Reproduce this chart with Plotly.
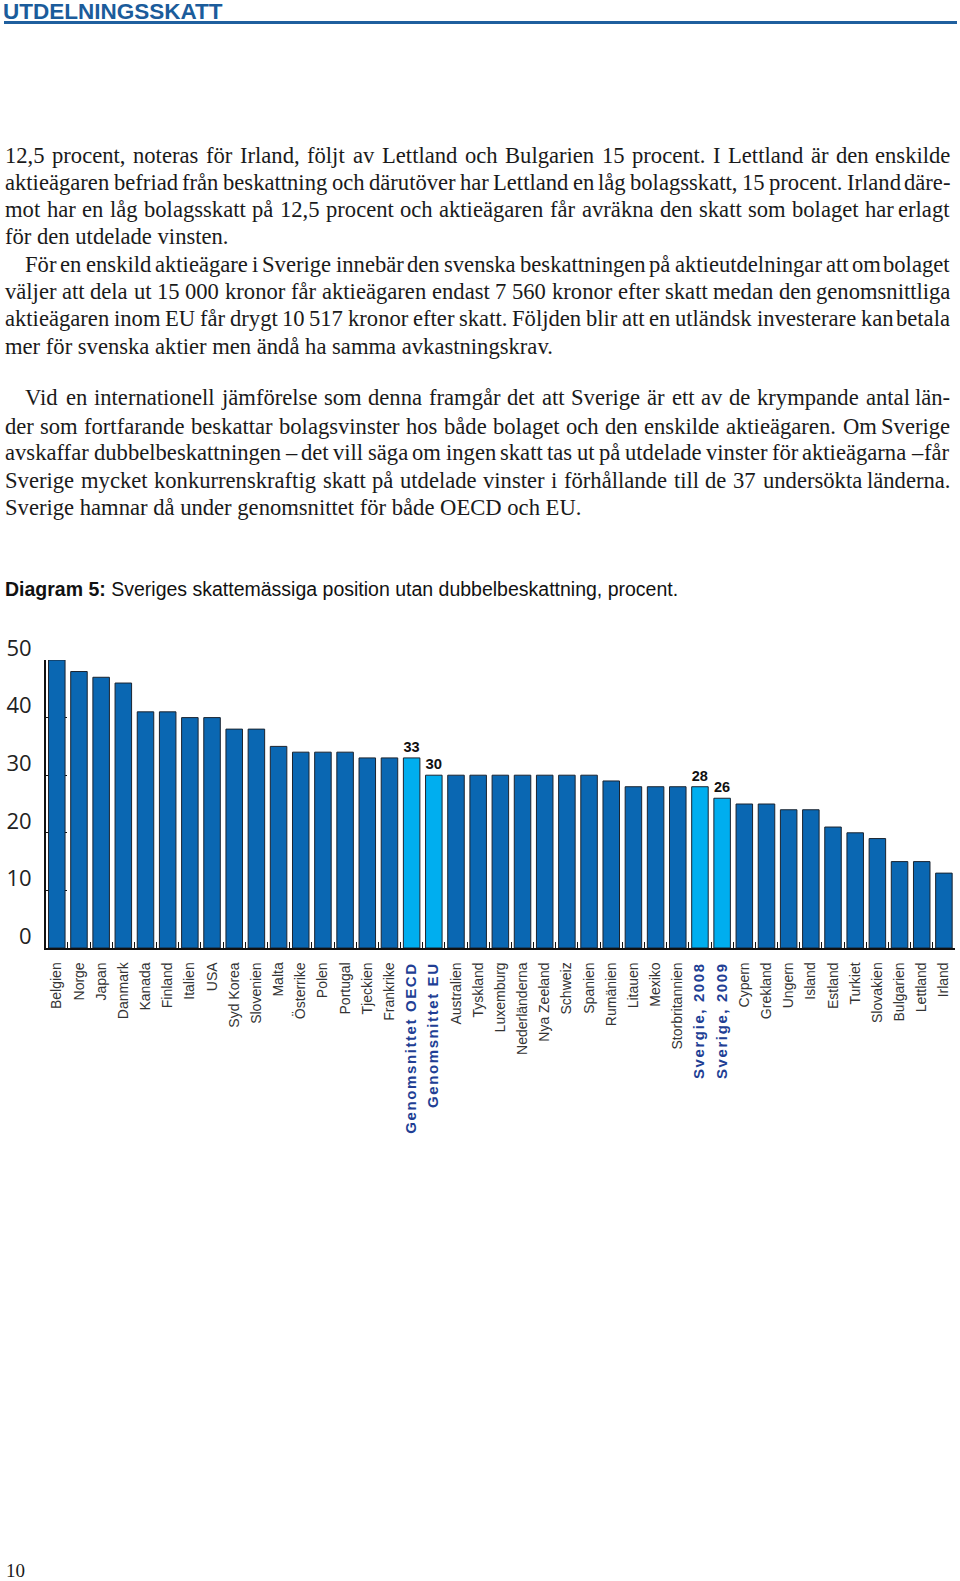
import plotly.graph_objects as go

# ---------------- data ----------------
categories = ["Belgien", "Norge", "Japan", "Danmark", "Kanada", "Finland", "Italien", "USA",
              "Syd Korea", "Slovenien", "Malta", "Österrike", "Polen", "Portugal", "Tjeckien",
              "Frankrike", "Genomsnittet OECD", "Genomsnittet EU", "Australien", "Tyskland",
              "Luxemburg", "Nederländerna", "Nya Zeeland", "Schweiz", "Spanien", "Rumänien",
              "Litauen", "Mexiko", "Storbritannien", "Svergie, 2008", "Sverige, 2009", "Cypern",
              "Grekland", "Ungern", "Island", "Estland", "Turkiet", "Slovakien", "Bulgarien",
              "Lettland", "Irland"]
values = [50, 48, 47, 46, 41, 41, 40, 40, 38, 38, 35, 34, 34, 34, 33, 33, 33, 30, 30, 30,
          30, 30, 30, 30, 30, 29, 28, 28, 28, 28, 26, 25, 25, 24, 24, 21, 20, 19, 15, 15, 13]
highlighted = ["Genomsnittet OECD", "Genomsnittet EU", "Svergie, 2008", "Sverige, 2009"]
labelled = {"Genomsnittet OECD": "33", "Genomsnittet EU": "30", "Svergie, 2008": "28", "Sverige, 2009": "26"}
y_ticks = [0, 10, 20, 30, 40, 50]

title_text = "UTDELNINGSSKATT"
caption_bold = "Diagram 5:"
caption_text = "Sveriges skattemässiga position utan dubbelbeskattning, procent."
page_number = "10"

# (text, visual-center y in px, indent, justified)
body_lines = [
    ("12,5 procent, noteras för Irland, följt av Lettland och Bulgarien 15 procent. I Lettland är den enskilde", 156, False, True),
    ("aktieägaren befriad från beskattning och därutöver har Lettland en låg bolagsskatt, 15 procent. Irland däre-", 183, False, True),
    ("mot har en låg bolagsskatt på 12,5 procent och aktieägaren får avräkna den skatt som bolaget har erlagt", 210, False, True),
    ("för den utdelade vinsten.", 236, False, False),
    ("För en enskild aktieägare i Sverige innebär den svenska beskattningen på aktieutdelningar att om bolaget", 264, True, True),
    ("väljer att dela ut 15 000 kronor får aktieägaren endast 7 560 kronor efter skatt medan den genomsnittliga", 291, False, True),
    ("aktieägaren inom EU får drygt 10 517 kronor efter skatt. Följden blir att en utländsk investerare kan betala", 318.5, False, True),
    ("mer för svenska aktier men ändå ha samma avkastningskrav.", 346, False, False),
    ("Vid en internationell jämförelse som denna framgår det att Sverige är ett av de krympande antal län-", 398, True, True),
    ("der som fortfarande beskattar bolagsvinster hos både bolaget och den enskilde aktieägaren. Om Sverige", 426, False, True),
    ("avskaffar dubbelbeskattningen – det vill säga om ingen skatt tas ut på utdelade vinster för aktieägarna – får", 453, False, True),
    ("Sverige mycket konkurrenskraftig skatt på utdelade vinster i förhållande till de 37 undersökta länderna.", 480, False, True),
    ("Sverige hamnar då under genomsnittet för både OECD och EU.", 507, False, False),
]

# ---------------- styling ----------------
W, H = 960, 1581
DARK = "#0A67B2"
LIGHT = "#00AEEF"
NAVY = "#213E94"
LEFT, RIGHT, INDENT = 4, 951, 20
MIN_GAP = 4.0

TW = {' ': 250, 'a': 444, 'b': 500, 'c': 444, 'd': 500, 'e': 444, 'f': 333, 'g': 500, 'h': 500,
      'i': 278, 'j': 278, 'k': 500, 'l': 278, 'm': 778, 'n': 500, 'o': 500, 'p': 500, 'q': 500,
      'r': 333, 's': 389, 't': 278, 'u': 500, 'v': 500, 'w': 722, 'x': 500, 'y': 500, 'z': 444,
      'A': 722, 'B': 667, 'C': 667, 'D': 722, 'E': 611, 'F': 556, 'G': 722, 'H': 722, 'I': 333,
      'J': 389, 'K': 722, 'L': 611, 'M': 889, 'N': 722, 'O': 722, 'P': 556, 'Q': 722, 'R': 667,
      'S': 556, 'T': 611, 'U': 722, 'V': 722, 'W': 944, 'X': 722, 'Y': 722, 'Z': 611,
      ',': 250, '.': 250, '-': 333, '–': 500, ':': 278, 'ä': 444, 'å': 444, 'ö': 500, 'Ö': 722,
      'Ä': 722, 'Å': 722}


def em(s):
    return sum(TW.get(c, 500) for c in s) / 1000.0


# font size so the tightest justified line still has a small word gap
fs_candidates = []
for text, yc, indent, justify in body_lines:
    if justify:
        words = text.split(" ")
        avail = RIGHT - LEFT - (INDENT if indent else 0) - (len(words) - 1) * MIN_GAP
        fs_candidates.append(avail / sum(em(w) for w in words))
BODY_FS = min(23.0, min(fs_candidates))


def px(x):
    return x / W


def py(y):
    return 1 - y / H


annotations = []
body_font = dict(family="Liberation Serif, Times New Roman, serif", size=BODY_FS, color="#1a1a1a")

for text, yc, indent, justify in body_lines:
    x0 = LEFT + (INDENT if indent else 0)
    if not justify:
        annotations.append(dict(text=text, x=px(x0), y=py(yc), xref="paper", yref="paper",
                                xanchor="left", yanchor="middle", showarrow=False,
                                font=body_font, borderpad=0))
        continue
    words = text.split(" ")
    widths = [em(w) * BODY_FS for w in words]
    gap = (RIGHT - x0 - sum(widths)) / (len(words) - 1)
    x = x0
    for i, (wd, wdt) in enumerate(zip(words, widths)):
        last = i == len(words) - 1
        annotations.append(dict(text=wd, x=px(RIGHT if last else x), y=py(yc), xref="paper", yref="paper",
                                xanchor="right" if last else "left", yanchor="middle", showarrow=False,
                                font=body_font, borderpad=0))
        x += wdt + gap

# title
annotations.append(dict(text="<b>" + title_text + "</b>", x=px(2), y=py(-2), xref="paper", yref="paper",
                        xanchor="left", yanchor="top", showarrow=False, borderpad=0,
                        font=dict(family="Liberation Sans, Arial, sans-serif", size=22.5, color="#1B5C9B")))
# caption
annotations.append(dict(text="<b>" + caption_bold + "</b> " + caption_text, x=px(4), y=py(589),
                        xref="paper", yref="paper", xanchor="left", yanchor="middle", showarrow=False,
                        borderpad=0, font=dict(family="Liberation Sans, Arial, sans-serif", size=19.5, color="#111111")))
# page number
annotations.append(dict(text=page_number, x=px(5), y=py(1581.5), xref="paper", yref="paper",
                        xanchor="left", yanchor="bottom", showarrow=False, borderpad=0,
                        font=dict(family="Liberation Serif, Times New Roman, serif", size=19, color="#1a1a1a")))

colors = [LIGHT if c in highlighted else DARK for c in categories]
bar_text = [labelled.get(c, "") for c in categories]


def tick_label(c):
    if c in highlighted:
        return ('<span style="font-weight:bold;letter-spacing:1.6px;font-size:15px;fill:%s">%s</span>'
                % (NAVY, c))
    return c


fig = go.Figure(go.Bar(
    x=categories, y=values,
    marker=dict(color=colors, line=dict(color="#1b2430", width=1)),
    text=bar_text, textposition="outside", cliponaxis=False,
    textfont=dict(family="Liberation Sans, Arial, sans-serif", size=15.5,
                  color="#111111", weight="bold"),
    hoverinfo="x+y",
))

# plot area in pixels
X0, X1 = 45.7, 955
Y_TOP, Y_BOT = 660, 948

fig.update_layout(
    width=W, height=H, autosize=False,
    margin=dict(l=0, r=0, t=0, b=0, pad=0),
    paper_bgcolor="white", plot_bgcolor="white",
    showlegend=False,
    bargap=0.255,
    annotations=annotations,
    shapes=[dict(type="line", xref="paper", yref="paper", x0=px(4), x1=px(957), y0=py(22.5), y1=py(22.5),
                 line=dict(color="#1F5F9E", width=3))],
    xaxis=dict(
        domain=[px(X0), px(X1)],
        range=[-0.5, len(categories) - 0.5],
        tickmode="array", tickvals=categories, ticktext=[tick_label(c) for c in categories],
        tickangle=-90, automargin=False, ticklabelstandoff=7,
        tickfont=dict(family="Liberation Sans, Arial, sans-serif", size=14, color="#333333"),
        tickson="boundaries", ticks="inside", ticklen=6, tickcolor="#111111", tickwidth=1.2,
        showline=True, linecolor="#111111", linewidth=1.5,
        showgrid=False, zeroline=False, fixedrange=True,
        layer="below traces",
    ),
    yaxis=dict(
        domain=[py(Y_BOT), py(Y_TOP)],
        range=[0, 50], automargin=False,
        tickmode="array", tickvals=y_ticks,
        ticks="inside", ticklen=22, tickcolor="#111111", tickwidth=1,
        tickfont=dict(family="Open Sans, sans-serif", size=22, color="#222222"),
        ticklabelshift=-12, ticklabelstandoff=8,
        showline=True, linecolor="#111111", linewidth=1.5,
        showgrid=False, zeroline=False, fixedrange=True,
        layer="below traces",
    ),
)

fig.write_html("out.html", config={"displayModeBar": False},
               post_script="document.body.style.margin='0';document.body.style.padding='0';"
                           "document.documentElement.style.overflow='hidden';")
